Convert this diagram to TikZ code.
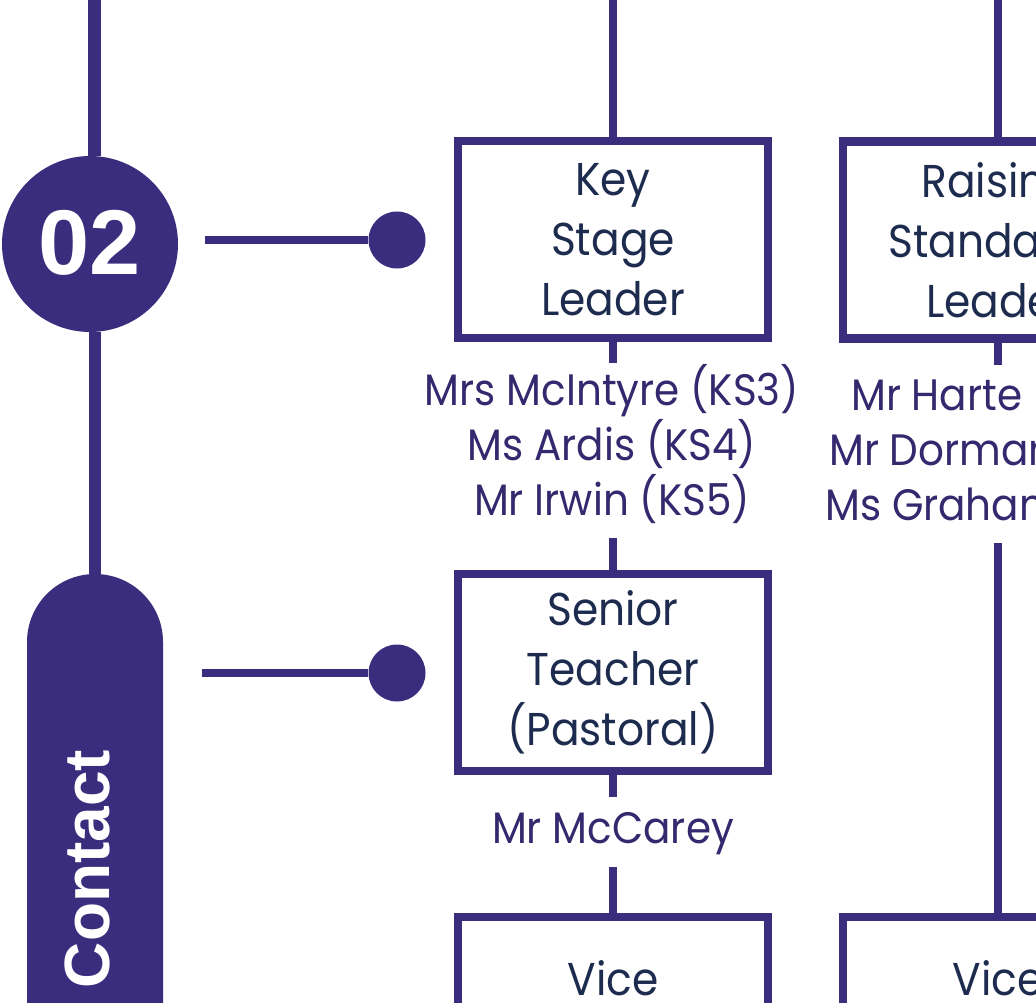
\documentclass[tikz,border=0pt]{standalone}
\usepackage{fontspec}
\setmainfont{Poppins}[FakeStretch=0.92]
\newfontfamily\arialf{Liberation Sans}
\definecolor{pur}{RGB}{59,45,126}
\definecolor{navy}{RGB}{28,43,78}
\definecolor{nametext}{RGB}{52,40,110}
\begin{document}
\begin{tikzpicture}[x=1pt,y=-1pt,
  mainline/.style={draw=pur,line width=12.5pt},
  stub/.style={draw=pur,line width=8.5pt},
  conn/.style={draw=pur,line width=8pt},
  dot/.style={circle,fill=pur,minimum size=57pt,inner sep=0pt},
  rolebox/.style={draw=pur,line width=8.5pt,fill=white,minimum width=310pt,
    minimum height=197pt,inner sep=0pt,align=center,text=navy,
    font=\fontsize{46}{60}\selectfont},
  roletext/.style={inner sep=0pt,text=navy,font=\fontsize{46}{60}\selectfont},
  namet/.style={inner sep=0pt,text=nametext,font=\fontsize{44}{55}\selectfont},
  badge/.style={inner sep=0pt,text=white,font=\arialf\bfseries\fontsize{92}{92}\selectfont}
]
\useasboundingbox (0,0) rectangle (1036,1003);
\clip (0,0) rectangle (1036,1003);

% left timeline
\node[circle,fill=pur,minimum size=176pt,inner sep=0pt] (c02) at (90,244) {};
\node[fill=pur,rounded corners=68pt,minimum width=136pt,minimum height=600pt,inner sep=0pt] (pill) at (95,874) {};
\coordinate (ltop) at (94.5,-10);
\draw[mainline] (ltop) -- (ltop |- c02.north);
\draw[mainline] (c02.south -| pill.north) -- (pill.north);
\node[badge] (num) at (90,242.5) {02};
\node[rotate=90,inner sep=0pt,text=white,font=\arialf\bfseries\fontsize{64}{64}\selectfont] (contact) at (87.5,869) {Contact};

% connectors with dots
\coordinate (h1) at (205,240);
\node[dot] (d1) at (397,240) {};
\draw[conn] (h1) -- (d1);
\coordinate (h2) at (202,673);
\node[dot] (d2) at (397,673) {};
\draw[conn] (h2) -- (d2);

% column 1
\node[rolebox] (ksl) at (613,239.5) {Key\\Stage\\Leader};
\node[rolebox] (stp) at (613,672.5) {Senior\\Teacher\\(Pastoral)};
\node[rolebox] (vp1) at (613,1015.5) {};
\node[roletext,anchor=base] (vp1t) at (613,995) {Vice};

\coordinate (t1) at (613,-10);
\coordinate (s1a) at (613,363);
\coordinate (s1b) at (613,538);
\coordinate (s1c) at (613,797);
\coordinate (s1d) at (613,867);
\draw[stub] (t1) -- (ksl.north);
\draw[stub] (ksl.south) -- (s1a);
\draw[stub] (s1b) -- (stp.north);
\draw[stub] (stp.south) -- (s1c);
\draw[stub] (s1d) -- (vp1.north);

\node[namet,anchor=base] (n1a) at (612,405) {Mrs McIntyre (KS3)};
\node[namet,anchor=base] (n1b) at (612,460) {Ms Ardis (KS4)};
\node[namet,anchor=base] (n1c) at (612,515) {Mr Irwin (KS5)};
\node[namet,anchor=base] (n2a) at (613,843) {Mr McCarey};

% column 2
\node[rolebox] (rsl) at (998,240) {Raising\\Standards\\Leader};
\node[rolebox] (vp2) at (998,1015.5) {};
\node[roletext,anchor=base] (vp2t) at (998,995) {Vice};
\coordinate (t2) at (998,-10);
\coordinate (s2a) at (998,365);
\coordinate (s2b) at (998,543);
\draw[stub] (t2) -- (rsl.north);
\draw[stub] (rsl.south) -- (s2a);
\draw[stub] (s2b) -- (vp2.north);

\node[namet,anchor=base west] (m2a) at (851,410) {Mr Harte};
\node[namet,anchor=base west] (m2b) at (829,465) {Mr Dorman};
\node[namet,anchor=base west] (m2c) at (825,520) {Ms Graham};
\end{tikzpicture}
\end{document}
